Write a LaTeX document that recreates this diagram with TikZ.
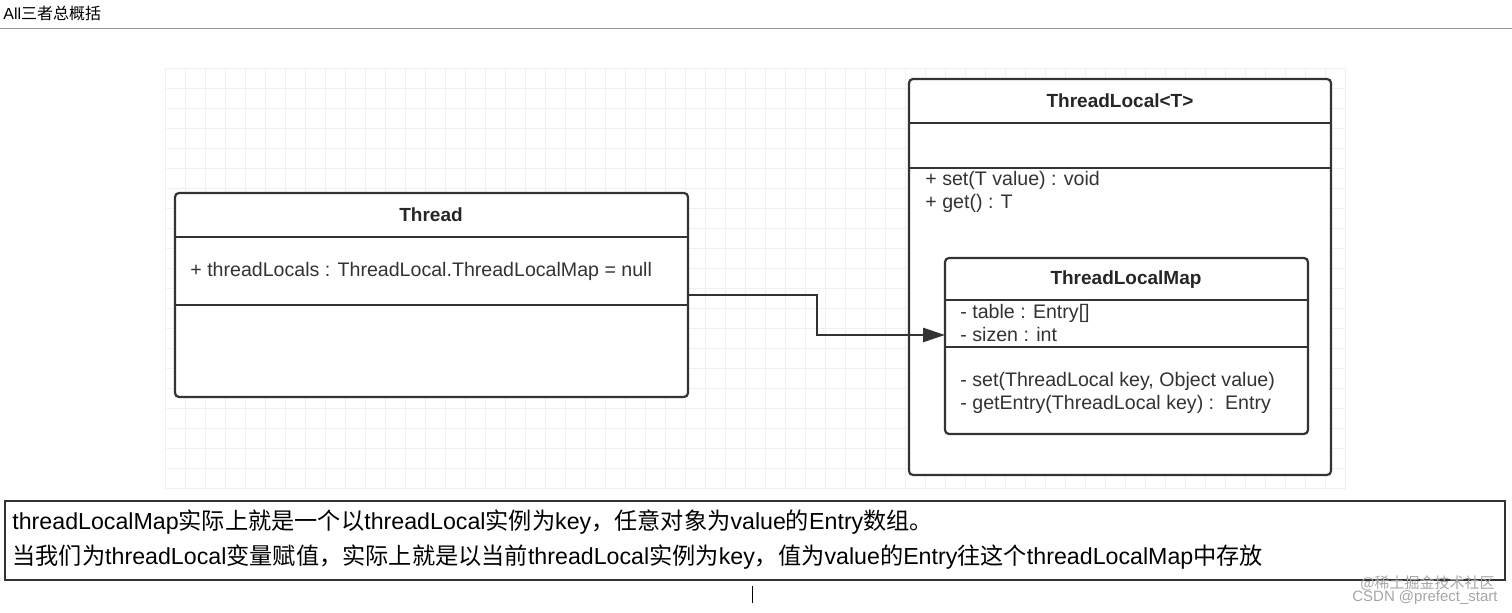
\documentclass[tikz,border=0pt]{standalone}
\usepackage{fontspec}
\setmainfont{Liberation Sans}
\newfontfamily\cjk{Noto Sans CJK SC}
\usetikzlibrary{arrows.meta}
\begin{document}
\begin{tikzpicture}[x=0.5pt,y=-0.5pt,
  box/.style={draw=black!80,line width=1.1pt,rounded corners=2pt},
  sep/.style={draw=black!80,line width=0.8pt},
  ttl/.style={font=\bfseries\fontsize{9.5}{11}\selectfont,text=black!85},
  mem/.style={anchor=west,font=\fontsize{9.8}{11}\selectfont,text=black!80,inner sep=0pt},
  big/.style={anchor=west,font=\fontsize{11.6}{13}\selectfont,inner sep=0pt}]
\useasboundingbox (0,0) rectangle (1512,613);
\node[anchor=west,inner sep=0pt,font=\fontsize{8}{9}\selectfont] (title) at (3,13) {All{\cjk 三者总概括}};
\draw[black!40] (0,28) -- (1512,28);
% grid
\foreach \x in {165,185,...,1345} \draw[black!6,line width=0.4pt] (\x,68) -- (\x,490);
\foreach \y in {68,88,...,490} \draw[black!6,line width=0.4pt] (165,\y) -- (1345,\y);
% Thread
\draw[box,fill=white] (175,193) rectangle (688,397);
\draw[sep] (175,237) -- (688,237); \draw[sep] (175,305) -- (688,305);
\node[ttl] (thread) at (431,215) {Thread};
\node[mem] (tl) at (190,271) {+ threadLocals : ThreadLocal.ThreadLocalMap = null};
% ThreadLocal
\draw[box,fill=white] (909,79) rectangle (1331,475);
\draw[sep] (909,123) -- (1331,123); \draw[sep] (909,168) -- (1331,168);
\node[ttl] (tlt) at (1120,101) {ThreadLocal<T>};
\node[mem] (m1) at (925,180) {+ set(T value) : void};
\node[mem] (m2) at (925,203) {+ get() : T};
% ThreadLocalMap
\draw[box,fill=white] (945,258) rectangle (1308,434);
\draw[sep] (945,300) -- (1308,300); \draw[sep] (945,347) -- (1308,347);
\node[ttl] (tlm) at (1126,280) {ThreadLocalMap};
\node[mem] (a1) at (960,313) {- table : Entry[]};
\node[mem] (a2) at (960,335) {- sizen : int};
\node[mem] (b1) at (960,381) {- set(ThreadLocal key, Object value)};
\node[mem] (b2) at (960,404) {- getEntry(ThreadLocal key) :\ \ Entry};
\coordinate (s) at (688,295); \coordinate (e) at (945,335);
\draw[line width=1.3pt,black!80,-{Triangle[length=11pt,width=7pt]}] (s) -- (817,295) -- (817,335) -- (e);
% text box
\draw[black!80,line width=0.8pt] (5,501) rectangle (1505,580);
\node[big] (t1) at (12,522) {threadLocalMap{\cjk 实际上就是一个以}threadLocal{\cjk 实例为}key{\cjk ，任意对象为}value{\cjk 的}Entry{\cjk 数组。}};
\node[big] (t2) at (12,557) {{\cjk 当我们为}threadLocal{\cjk 变量赋值，实际上就是以当前}threadLocal{\cjk 实例为}key{\cjk ，值为}value{\cjk 的}Entry{\cjk 往这个}threadLocalMap{\cjk 中存放}};
\node[anchor=east,inner sep=0pt,text=black!35,font=\cjk\fontsize{7.5}{9}\selectfont] (w1) at (1495,583) {@稀土掘金技术社区};
\node[anchor=east,inner sep=0pt,text=black!35,font=\fontsize{7.5}{9}\selectfont] (w2) at (1498,598) {CSDN @prefect\_start};
\draw[black] (752,586) -- (752,603);
\end{tikzpicture}
\end{document}
